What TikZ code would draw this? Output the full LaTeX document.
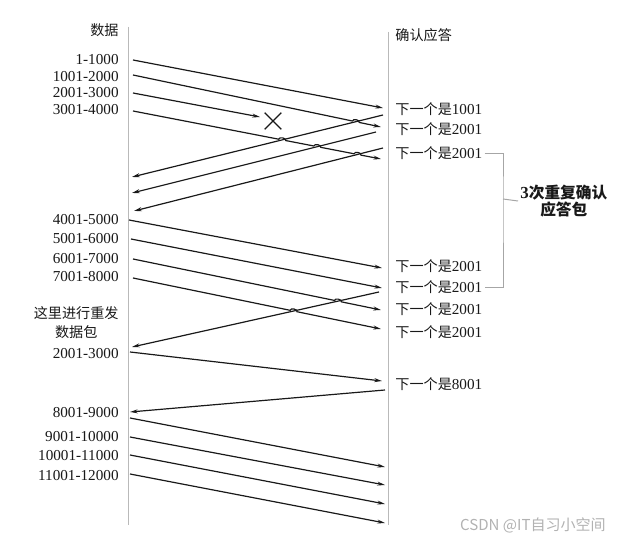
\documentclass[tikz,border=0pt]{standalone}
\usepackage{fontspec}
\setmainfont{Liberation Serif}
\newfontfamily\cjk[Scale=0.93]{Noto Sans CJK SC}
\usetikzlibrary{arrows.meta,calc,intersections,shapes.misc}

\newcommand{\nextack}[1]{{\cjk 下一个是}#1}

\begin{document}
\begin{tikzpicture}[x=0.025cm,y=-0.025cm,
    font=\fontsize{10.8}{13}\selectfont,
    lifeline/.style={gray!55,line width=0.6pt},
    packet/.style={black!90,line width=0.85pt,-{Stealth[length=5.5pt,width=2.8pt]}},
    seqno/.style={anchor=east,inner sep=1.5pt,text=black!90},
    acktext/.style={anchor=west,inner sep=1.5pt,text=black!90},
    hop/.style={bend left=90}]
        \useasboundingbox[fill=white] (0,0) rectangle (621,543);

        % Draw lifelines and headings
        \draw[lifeline] (128,27) -- (128,525);
        \draw[lifeline] (388,32) -- (388,525);
        \node[seqno] (hdata) at (121,30) {\cjk 数据};
        \node[acktext] (hack) at (393,35) {\cjk 确认应答};

        % Sequence numbers on the sender side
        \node[seqno] (s1) at (121,60) {1-1000};
        \node[seqno] (s2) at (121,77) {1001-2000};
        \node[seqno] (s3) at (121,93) {2001-3000};
        \node[seqno] (s4) at (121,110) {3001-4000};
        \node[seqno] (s5) at (121,220) {4001-5000};
        \node[seqno] (s6) at (121,239) {5001-6000};
        \node[seqno] (s7) at (121,259) {6001-7000};
        \node[seqno] (s8) at (121,277) {7001-8000};
        \node[seqno,align=center,font=\fontsize{10.8}{13.5}\selectfont] (resend) at (121,323) {{\cjk 这里进行重发}\\{\cjk 数据包}};
        \node[seqno] (s9) at (121,354) {2001-3000};
        \node[seqno] (s10) at (121,413) {8001-9000};
        \node[seqno] (s11) at (121,437) {9001-10000};
        \node[seqno] (s12) at (121,456) {10001-11000};
        \node[seqno] (s13) at (121,476) {11001-12000};

        % Acknowledgements on the receiver side
        \node[acktext] (r1) at (393,109) {\nextack{1001}};
        \node[acktext] (r2) at (393,129) {\nextack{2001}};
        \node[acktext] (r3) at (393,153) {\nextack{2001}};
        \node[acktext] (r4) at (393,266) {\nextack{2001}};
        \node[acktext] (r5) at (393,287) {\nextack{2001}};
        \node[acktext] (r6) at (393,309) {\nextack{2001}};
        \node[acktext] (r7) at (393,332) {\nextack{2001}};
        \node[acktext] (r8) at (393,384) {\nextack{8001}};

        % Bracket for the three duplicate acks
        \coordinate (brk) at (503,199);
        \draw[gray!70,line width=0.7pt] (r3.east) -| (brk) |- (r5.east);
        \node[anchor=west,align=center,inner sep=1.5pt,text=black!90,
              font=\fontsize{12}{12.5}\selectfont\bfseries] (dup) at (518,201)
              {3{\cjk 次重复确认}\\{\cjk 应答包}};
        \draw[gray!70,line width=0.7pt] (brk) -- (dup.west);

        % End points of the segments
        \coordinate (d1s) at (133,60);  \coordinate (d1e) at (383,108);
        \coordinate (d2s) at (133,75);  \coordinate (d2e) at (381,127);
        \coordinate (d3s) at (133,93);  \coordinate (d3e) at (260,117);
        \coordinate (d4s) at (133,111); \coordinate (d4e) at (381,159);
        \coordinate (d5s) at (129,220); \coordinate (d5e) at (382,268);
        \coordinate (d6s) at (131,239); \coordinate (d6e) at (382,288);
        \coordinate (d7s) at (133,259); \coordinate (d7e) at (381,310);
        \coordinate (d8s) at (133,278); \coordinate (d8e) at (381,329);
        \coordinate (d9s) at (130,352); \coordinate (d9e) at (382,381);
        \coordinate (d10s) at (130,418); \coordinate (d10e) at (385,467);
        \coordinate (d11s) at (130,437); \coordinate (d11e) at (385,485);
        \coordinate (d12s) at (130,455); \coordinate (d12e) at (385,504);
        \coordinate (d13s) at (130,474); \coordinate (d13e) at (385,523);
        % acks
        \coordinate (a1s) at (383,115); \coordinate (a1e) at (132,177);
        \coordinate (a2s) at (376,132); \coordinate (a2e) at (132,193);
        \coordinate (a3s) at (383,148); \coordinate (a3e) at (134,211);
        \coordinate (a4s) at (379,292); \coordinate (a4e) at (132,347);
        \coordinate (a5s) at (385,390); \coordinate (a5e) at (130,412);

        % Crossings
        \path[name path=p2] (d2s) -- (d2e);
        \path[name path=p4] (d4s) -- (d4e);
        \path[name path=p7] (d7s) -- (d7e);
        \path[name path=p8] (d8s) -- (d8e);
        \path[name path=q1] (a1s) -- (a1e);
        \path[name path=q2] (a2s) -- (a2e);
        \path[name path=q3] (a3s) -- (a3e);
        \path[name path=q4] (a4s) -- (a4e);
        \path[name intersections={of=p2 and q1,by=x21}];
        \path[name intersections={of=p4 and q1,by=x41}];
        \path[name intersections={of=p4 and q2,by=x42}];
        \path[name intersections={of=p4 and q3,by=x43}];
        \path[name intersections={of=p7 and q4,by=x74}];
        \path[name intersections={of=p8 and q4,by=x84}];

        % Draw acks
        \draw[packet] (a1s) -- (a1e);
        \draw[packet] (a2s) -- (a2e);
        \draw[packet] (a3s) -- (a3e);
        \draw[packet] (a4s) -- (a4e);
        \draw[packet] (a5s) -- (a5e);

        % Draw data segments
        \draw[packet] (d1s) -- (d1e);
        \draw[packet] (d2s) -- ($(x21)!2.5pt!(d2s)$) to[hop] ($(x21)!2.5pt!(d2e)$) -- (d2e);
        \draw[packet] (d3s) -- (d3e);
        \node[cross out,draw=black!90,line width=0.9pt,inner sep=0pt,
              minimum width=11pt,minimum height=11pt] (lost) at (273,121) {};
        \draw[packet] (d4s) -- ($(x41)!2.5pt!(d4s)$) to[hop] ($(x41)!2.5pt!(d4e)$)
            -- ($(x42)!2.5pt!(d4s)$) to[hop] ($(x42)!2.5pt!(d4e)$)
            -- ($(x43)!2.5pt!(d4s)$) to[hop] ($(x43)!2.5pt!(d4e)$) -- (d4e);
        \draw[packet] (d5s) -- (d5e);
        \draw[packet] (d6s) -- (d6e);
        \draw[packet] (d7s) -- ($(x74)!2.5pt!(d7s)$) to[hop] ($(x74)!2.5pt!(d7e)$) -- (d7e);
        \draw[packet] (d8s) -- ($(x84)!2.5pt!(d8s)$) to[hop] ($(x84)!2.5pt!(d8e)$) -- (d8e);
        \draw[packet] (d9s) -- (d9e);
        \draw[packet] (d10s) -- (d10e);
        \draw[packet] (d11s) -- (d11e);
        \draw[packet] (d12s) -- (d12e);
        \draw[packet] (d13s) -- (d13e);

        % Watermark
        \node[anchor=east,inner sep=0pt,text=gray!60,font=\fontsize{11.5}{13}\selectfont] (mark) at (606,525) {\cjk CSDN @IT自习小空间};
    \end{tikzpicture}
\end{document}
